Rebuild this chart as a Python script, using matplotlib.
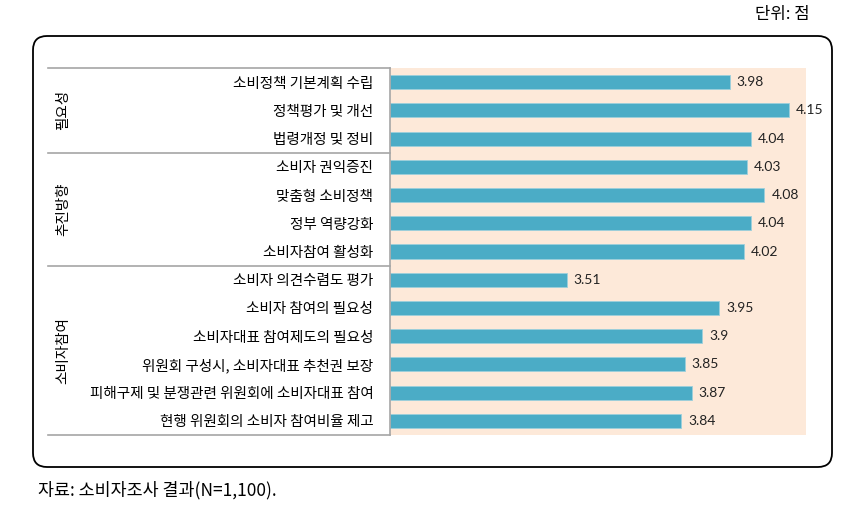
import matplotlib
matplotlib.use('Agg')
import matplotlib.pyplot as plt
from matplotlib.patches import FancyBboxPatch

plt.rcParams['font.family'] = ['Noto Sans CJK KR', 'DejaVu Sans']

# --- Data ---
items = [
    "소비정책 기본계획 수립",
    "정책평가 및 개선",
    "법령개정 및 정비",
    "소비자 권익증진",
    "맞춤형 소비정책",
    "정부 역량강화",
    "소비자참여 활성화",
    "소비자 의견수렴도 평가",
    "소비자 참여의 필요성",
    "소비자대표 참여제도의 필요성",
    "위원회 구성시, 소비자대표 추천권 보장",
    "피해구제 및 분쟁관련 위원회에 소비자대표 참여",
    "현행 위원회의 소비자 참여비율 제고",
]
scores = [3.98, 4.15, 4.04, 4.03, 4.08, 4.04, 4.02,
          3.51, 3.95, 3.9, 3.85, 3.87, 3.84]
groups = ["필요성", "추진방향", "소비자참여"]
group_sizes = [3, 4, 6]

BAR_COLOR = '#4BACC6'
BG_COLOR = '#FDE9D9'

fig = plt.figure(figsize=(8.46, 5.08), dpi=100)

# --- Background overlay (pixel coords) ---
bg = fig.add_axes([0, 0, 1, 1], zorder=-1)
bg.set_xlim(0, 846)
bg.set_ylim(508, 0)
bg.axis('off')
box = FancyBboxPatch((33, 36), 799, 431, boxstyle="round,pad=0,rounding_size=14",
                     fill=False, edgecolor='black', linewidth=1.3)
bg.add_patch(box)
bg.text(810, 14, "단위: 점", ha='right', va='center', fontsize=12)
bg.text(38, 490, "자료: 소비자조사 결과(N=1,100).", ha='left', va='center', fontsize=12.5)

# --- Main bar chart ---
ax = fig.add_axes([390 / 846, 1 - 435 / 508, 416 / 846, 367 / 508])
ax.set_facecolor(BG_COLOR)
ypos = list(range(len(items)))
ax.barh(ypos, [s - 3.0 for s in scores], left=3.0, height=0.5,
        color=BAR_COLOR, edgecolor='#9ccfdc', linewidth=0.6)
for y, s in zip(ypos, scores):
    ax.text(s + 0.02, y, f"{s:g}", va='center', ha='left',
            fontsize=10, family=['Lato', 'DejaVu Sans'], color='#222222')
ax.set_xlim(3.0, 4.2)
ax.set_ylim(len(items) - 0.5, -0.5)
ax.set_xticks([])
ax.set_yticks(ypos)
ax.set_yticklabels(items, fontsize=10.5)
ax.tick_params(axis='y', length=0, pad=12)
for side in ['top', 'right', 'bottom']:
    ax.spines[side].set_visible(False)
ax.spines['left'].set_color('#a6a6a6')
ax.spines['left'].set_linewidth(1.2)

# --- Group table lines and labels ---
tr = ax.get_yaxis_transform()
x_left = (48 - 390) / 416
x_lab = (63 - 390) / 416
start = 0
bounds = [-0.5]
for name, n in zip(groups, group_sizes):
    end = start + n
    bounds.append(end - 0.5)
    ax.text(x_lab, (start + end - 1) / 2, name, rotation=90, ha='center', va='center',
            fontsize=10.5, transform=tr)
    start = end
for b in bounds:
    ax.plot([x_left, 0], [b, b], color='#a6a6a6', lw=1.2, transform=tr, clip_on=False)

fig.savefig('out.png', dpi=100)
